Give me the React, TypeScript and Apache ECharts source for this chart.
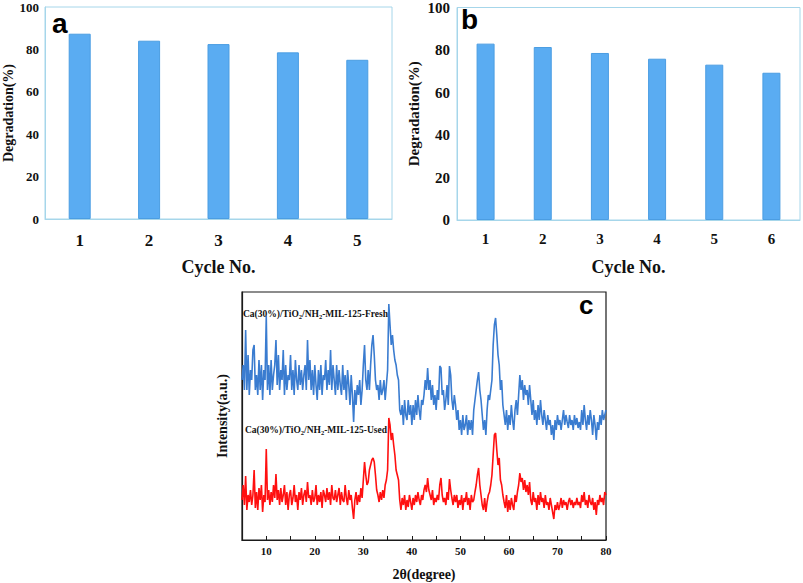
import React, { useEffect, useRef } from "react";
import * as echarts from "echarts";

const cyclesA = ["1", "2", "3", "4", "5"];
const degradationA = [87.4, 84.1, 82.5, 78.6, 75.1];
const cyclesB = ["1", "2", "3", "4", "5", "6"];
const degradationB = [83.0, 81.4, 78.6, 75.9, 73.1, 69.3];

const thetaStart = 5;
const thetaStep = 0.25;
const thetaTickValues = [5, 10, 15, 20, 25, 30, 35, 40, 45, 50, 55, 60, 65, 70, 75, 80];
const thetaLabelValues = [10, 20, 30, 40, 50, 60, 70, 80];

// intensities sampled every 0.25 degree from 5 to 80 (a.u.)
const freshIntensity = [
  160, 175, 150, 210, 150, 185, 145, 170, 160, 190, 195, 150, 165, 145, 180, 150,
  175, 140, 170, 160, 224, 150, 175, 145, 180, 150, 165, 175, 200, 155, 185, 150,
  170, 160, 190, 145, 175, 150, 165, 160, 185, 150, 170, 145, 180, 160, 150, 175,
  155, 170, 150, 165, 175, 150, 200, 160, 180, 150, 170, 145, 175, 155, 140, 170,
  150, 175, 145, 165, 160, 180, 150, 170, 155, 190, 150, 175, 160, 145, 175, 150,
  170, 155, 145, 175, 150, 165, 140, 170, 155, 135, 165, 145, 118, 150, 135, 155,
  145, 160, 135, 150, 175, 195, 160, 150, 170, 150, 175, 195, 205, 185, 160, 150,
  155, 140, 160, 145, 150, 160, 140, 155, 170, 236, 215, 195, 205, 190, 180, 175,
  165, 160, 130, 125, 135, 115, 140, 125, 120, 140, 125, 135, 115, 135, 120, 140,
  125, 145, 130, 120, 140, 135, 145, 160, 150, 172, 150, 160, 140, 155, 135, 145,
  130, 150, 140, 174, 172, 145, 150, 130, 140, 155, 135, 174, 165, 140, 130, 145,
  135, 120, 130, 110, 120, 105, 125, 110, 115, 125, 105, 120, 110, 120, 105, 130,
  140, 150, 160, 168, 150, 140, 125, 110, 120, 105, 130, 145, 140, 150, 160, 195,
  215, 222, 205, 185, 175, 150, 160, 135, 125, 115, 130, 110, 125, 115, 135, 120,
  110, 130, 140, 125, 145, 165, 150, 160, 140, 155, 145, 150, 135, 155, 140, 125,
  140, 120, 130, 115, 135, 120, 140, 125, 115, 130, 120, 110, 125, 115, 120, 105,
  115, 100, 120, 110, 125, 115, 120, 110, 120, 130, 115, 125, 118, 112, 125, 115,
  120, 110, 125, 115, 122, 112, 118, 110, 130, 115, 135, 120, 110, 125, 115, 130,
  120, 105, 125, 115, 100, 118, 110, 125, 115, 130, 120, 125, 130,
];

const usedIntensity = [
  40, 55, 35, 64, 30, 45, 38, 50, 35, 45, 70, 32, 48, 30, 52, 40,
  55, 28, 45, 38, 91, 40, 50, 35, 48, 38, 55, 42, 66, 40, 50, 35,
  52, 38, 45, 55, 35, 48, 30, 45, 50, 35, 42, 55, 38, 45, 30, 48,
  40, 52, 35, 45, 50, 38, 58, 42, 45, 35, 50, 38, 42, 55, 35, 45,
  38, 48, 32, 50, 45, 38, 52, 40, 48, 35, 55, 42, 40, 50, 38, 45,
  52, 35, 48, 40, 38, 55, 42, 35, 50, 40, 45, 32, 21, 40, 48, 35,
  45, 38, 52, 42, 60, 78, 65, 55, 58, 70, 75, 80, 82, 78, 65, 50,
  45, 38, 48, 40, 50, 42, 55, 60, 70, 122, 115, 100, 107, 95, 85, 70,
  65, 60, 40, 30, 42, 35, 45, 30, 40, 33, 45, 38, 30, 42, 35, 45,
  38, 48, 40, 35, 45, 40, 50, 55, 48, 62, 50, 45, 40, 50, 35, 42,
  38, 45, 40, 55, 62, 45, 38, 42, 35, 48, 40, 61, 50, 42, 35, 45,
  38, 45, 32, 40, 35, 45, 30, 42, 38, 48, 35, 42, 30, 45, 38, 40,
  48, 55, 65, 72, 55, 45, 35, 30, 42, 28, 38, 45, 48, 55, 65, 85,
  105, 107, 90, 75, 82, 60, 55, 45, 38, 32, 45, 28, 40, 30, 42, 35,
  30, 45, 38, 48, 55, 67, 58, 62, 50, 60, 48, 55, 45, 58, 40, 35,
  48, 38, 42, 30, 45, 35, 48, 38, 42, 32, 45, 35, 38, 30, 42, 35,
  28, 21, 35, 30, 38, 30, 35, 42, 32, 40, 35, 38, 30, 38, 42, 35,
  40, 32, 38, 35, 42, 35, 38, 32, 45, 38, 48, 35, 40, 32, 45, 38,
  35, 42, 30, 38, 25, 40, 35, 45, 38, 42, 35, 48, 45,
];

const SERIF = "'Liberation Serif', 'Times New Roman', serif";
const SANS = "'Liberation Sans', Arial, sans-serif";
const FRAME_AB = "#a6d6ea";
const BAR_FILL = "#5aacf2";
const BAR_EDGE = "#4b9de2";

export default function App() {
  const ref = useRef<HTMLDivElement>(null);

  useEffect(() => {
    if (!ref.current) return;
    const chart = echarts.init(ref.current, null, { renderer: "svg" });

    const fresh = freshIntensity.map((v, i) => [thetaStart + i * thetaStep, v]);
    const used = usedIntensity.map((v, i) => [thetaStart + i * thetaStep, v]);

    const boldSerif = (size: number) => ({
      fontFamily: SERIF,
      fontWeight: "bold" as const,
      fontSize: size,
      color: "#111",
    });

    const option: any = {
      animation: false,
      backgroundColor: "#ffffff",
      grid: [
        { left: 45, top: 7, width: 347, height: 212, show: true, borderColor: FRAME_AB, borderWidth: 1, containLabel: false },
        { left: 457, top: 7, width: 343, height: 213, show: true, borderColor: FRAME_AB, borderWidth: 1, containLabel: false },
        { left: 242, top: 292, width: 364, height: 248, show: true, borderColor: "#1a1a1a", borderWidth: 1.2, containLabel: false },
      ],
      xAxis: [
        {
          type: "category",
          gridIndex: 0,
          data: cyclesA,
          axisLine: { lineStyle: { color: FRAME_AB } },
          axisTick: { show: false },
          axisLabel: { ...boldSerif(17), margin: 13 },
          name: "Cycle No.",
          nameLocation: "middle",
          nameGap: 39,
          nameTextStyle: boldSerif(18),
        },
        {
          type: "category",
          gridIndex: 1,
          data: cyclesB,
          axisLine: { lineStyle: { color: FRAME_AB } },
          axisTick: { show: false },
          axisLabel: { ...boldSerif(15), margin: 11 },
          name: "Cycle No.",
          nameLocation: "middle",
          nameGap: 38,
          nameTextStyle: boldSerif(18),
        },
        {
          type: "value",
          gridIndex: 2,
          min: 5,
          max: 80,
          axisLine: { lineStyle: { color: "#1a1a1a", width: 1.2 } },
          axisTick: { inside: true, length: 4, customValues: thetaTickValues, lineStyle: { color: "#1a1a1a" } },
          axisLabel: { ...boldSerif(11), margin: 5, customValues: thetaLabelValues },
          splitLine: { show: false },
          name: "2θ(degree)",
          nameLocation: "middle",
          nameGap: 27,
          nameTextStyle: boldSerif(14),
        },
      ],
      yAxis: [
        {
          type: "value",
          gridIndex: 0,
          min: 0,
          max: 100,
          interval: 20,
          axisLine: { show: true, lineStyle: { color: FRAME_AB } },
          axisTick: { show: false },
          splitLine: { show: false },
          axisLabel: { ...boldSerif(13), margin: 6 },
          name: "Degradation(%)",
          nameLocation: "middle",
          nameGap: 30,
          nameTextStyle: boldSerif(14),
        },
        {
          type: "value",
          gridIndex: 1,
          min: 0,
          max: 100,
          interval: 20,
          axisLine: { show: true, lineStyle: { color: FRAME_AB } },
          axisTick: { show: false },
          splitLine: { show: false },
          axisLabel: { ...boldSerif(15), margin: 7 },
          name: "Degradation(%)",
          nameLocation: "middle",
          nameGap: 36,
          nameTextStyle: boldSerif(15),
        },
        {
          type: "value",
          gridIndex: 2,
          min: 0,
          max: 248,
          axisLine: { show: true, lineStyle: { color: "#1a1a1a", width: 1.2 } },
          axisTick: { show: false },
          axisLabel: { show: false },
          splitLine: { show: false },
          name: "Intensity(a.u.)",
          nameLocation: "middle",
          nameGap: 13,
          nameTextStyle: boldSerif(14),
        },
      ],
      series: [
        {
          type: "bar",
          xAxisIndex: 0,
          yAxisIndex: 0,
          data: degradationA,
          barWidth: 22,
          itemStyle: { color: BAR_FILL, borderColor: BAR_EDGE, borderWidth: 1 },
        },
        {
          type: "bar",
          xAxisIndex: 1,
          yAxisIndex: 1,
          data: degradationB,
          barWidth: 18,
          itemStyle: { color: BAR_FILL, borderColor: BAR_EDGE, borderWidth: 1 },
        },
        {
          name: "Ca(30%)/TiO2/NH2-MIL-125-Fresh",
          type: "line",
          xAxisIndex: 2,
          yAxisIndex: 2,
          data: fresh,
          showSymbol: false,
          lineStyle: { color: "#3a7cd0", width: 1.6 },
        },
        {
          name: "Ca(30%)/TiO2/NH2-MIL-125-Used",
          type: "line",
          xAxisIndex: 2,
          yAxisIndex: 2,
          data: used,
          showSymbol: false,
          lineStyle: { color: "#ff1010", width: 1.6 },
        },
      ],
      graphic: [
        { type: "text", left: 52, top: 9, style: { text: "a", font: `bold 28px ${SANS}`, fill: "#000" } },
        { type: "text", left: 461, top: 5, style: { text: "b", font: `bold 28px ${SANS}`, fill: "#000" } },
        { type: "text", left: 579, top: 292, style: { text: "c", font: `bold 26px ${SANS}`, fill: "#000" } },
        {
          type: "text",
          left: 243,
          top: 307,
          style: {
            text: "Ca(30%)/TiO{s|2}/NH{s|2}-MIL-125-Fresh",
            font: `bold 9.5px ${SERIF}`,
            fill: "#111",
            lineHeight: 13,
            rich: { s: { fontFamily: SERIF, fontWeight: "bold", fontSize: 6.5, verticalAlign: "bottom", lineHeight: 13, fill: "#111" } },
          },
        },
        {
          type: "text",
          left: 245,
          top: 423,
          style: {
            text: "Ca(30%)/TiO{s|2}/NH{s|2}-MIL-125-Used",
            font: `bold 9.5px ${SERIF}`,
            fill: "#111",
            lineHeight: 13,
            rich: { s: { fontFamily: SERIF, fontWeight: "bold", fontSize: 6.5, verticalAlign: "bottom", lineHeight: 13, fill: "#111" } },
          },
        },
      ],
    };

    chart.setOption(option);
    return () => chart.dispose();
  }, []);

  return (
    <div
      ref={ref}
      style={{ position: "fixed", left: 0, top: 0, width: 803, height: 583, background: "#fff" }}
    />
  );
}
